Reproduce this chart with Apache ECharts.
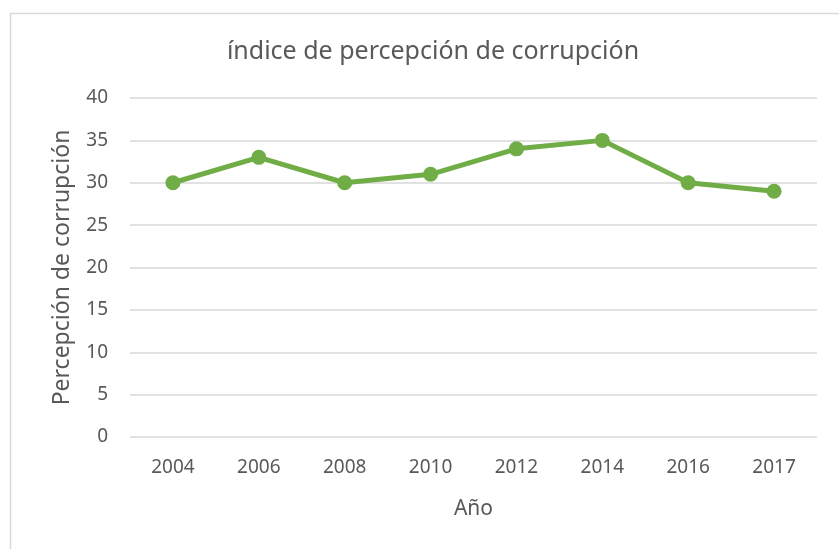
<!DOCTYPE html>
<html>
<head>
<meta charset="utf-8">
<script src="https://cdn.jsdelivr.net/npm/echarts@6/dist/echarts.min.js"></script>
<style>
  html, body { margin: 0; padding: 0; background: #fff; }
  #chart { width: 839px; height: 549px; }
</style>
</head>
<body>
<div id="chart"></div>
<script>
const years = ['2004', '2006', '2008', '2010', '2012', '2014', '2016', '2017']
const indexValues = [30, 33, 30, 31, 34, 35, 30, 29]

const textColor = '#595959'
const font = 'Noto Sans, Open Sans, sans-serif'

const chart = echarts.init(document.getElementById('chart'))
chart.setOption({
  animation: false,
  textStyle: { fontFamily: font },
  graphic: [{
    type: 'rect',
    shape: { x: 10.5, y: 13.5, width: 900, height: 600 },
    style: { fill: 'none', stroke: '#d9d9d9', lineWidth: 1.5 },
    silent: true
  }],
  title: {
    text: 'índice de percepción de corrupción',
    left: 428,
    top: 34,
    textAlign: 'center',
    textStyle: { color: textColor, fontSize: 25, fontWeight: 'normal', fontFamily: font }
  },
  grid: { left: 130, right: 22, top: 98, bottom: 112 },
  xAxis: {
    type: 'category',
    data: years,
    name: 'Año',
    nameLocation: 'middle',
    nameGap: 62,
    nameTextStyle: { color: textColor, fontSize: 21 },
    axisTick: { show: false },
    axisLine: { show: false },
    axisLabel: { color: textColor, fontSize: 19, margin: 21 }
  },
  yAxis: {
    type: 'value',
    min: 0,
    max: 40,
    interval: 5,
    name: 'Percepción de corrupción',
    nameLocation: 'middle',
    nameGap: 56,
    nameTextStyle: { color: textColor, fontSize: 23 },
    axisLine: { show: false },
    axisTick: { show: false },
    axisLabel: { color: textColor, fontSize: 19, margin: 22 },
    splitLine: { lineStyle: { color: '#d9d9d9', width: 1.5 } }
  },
  series: [{
    type: 'line',
    data: indexValues,
    symbol: 'circle',
    symbolSize: 15,
    lineStyle: { color: '#70ad47', width: 5 },
    itemStyle: { color: '#70ad47' }
  }]
})
</script>
</body>
</html>
